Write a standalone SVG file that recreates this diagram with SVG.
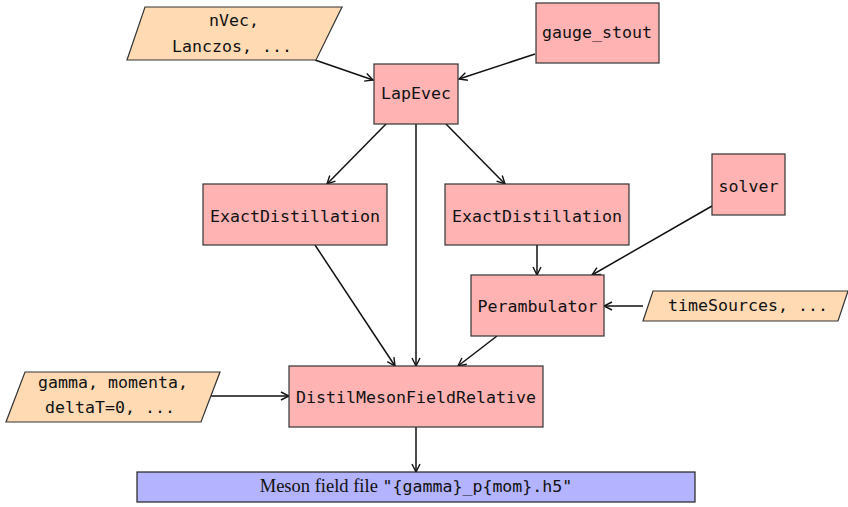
<svg xmlns="http://www.w3.org/2000/svg" width="848" height="507" viewBox="0 0 848 507">
  <style>
    .task { fill: #ffb3b3; stroke: #333; stroke-width: 1.2; }
    .param { fill: #ffdab3; stroke: #333; stroke-width: 1.2; }
    .out { fill: #b3b3ff; stroke: #222; stroke-width: 1.2; }
    .lbl { font-family: "DejaVu Sans Mono", "Liberation Mono", monospace; font-size: 16.6px; fill: #111; text-anchor: middle; }
    .serif { font-family: "Liberation Serif", "Times New Roman", serif; font-size: 18.5px; fill: #111; }
    .mono { font-family: "DejaVu Sans Mono", "Liberation Mono", monospace; font-size: 16.6px; }
    .edge { fill: none; stroke: #111; stroke-width: 1.5; marker-end: url(#arr); }
  </style>
  <defs>
    <marker id="arr" viewBox="0 0 10 10" refX="9" refY="5" markerWidth="10" markerHeight="10" markerUnits="userSpaceOnUse" orient="auto">
      <path d="M1,1 L9,5 L1,9" fill="none" stroke="#111" stroke-width="1.4" stroke-linejoin="miter"/>
    </marker>
  </defs>

  <g id="connectors">
    <line class="edge" x1="315" y1="60" x2="373" y2="80"/>
    <line class="edge" x1="535" y1="54" x2="459" y2="79"/>
    <line class="edge" x1="386" y1="124" x2="327" y2="184"/>
    <line class="edge" x1="446" y1="124" x2="505" y2="184"/>
    <line class="edge" x1="416" y1="124" x2="416" y2="366"/>
    <line class="edge" x1="537" y1="245" x2="537" y2="275"/>
    <line class="edge" x1="712" y1="206" x2="592" y2="275"/>
    <line class="edge" x1="643" y1="306" x2="604" y2="306"/>
    <line class="edge" x1="315" y1="245" x2="395" y2="366"/>
    <line class="edge" x1="497" y1="336" x2="458" y2="366"/>
    <line class="edge" x1="211" y1="396" x2="289" y2="396"/>
    <line class="edge" x1="416" y1="427" x2="416" y2="472"/>
  </g>

  <g id="params-lapevec">
    <polygon class="param" points="145,7 342,7 316,60 127,60"/>
    <text class="lbl" x="234" y="26">nVec,</text>
    <text class="lbl" x="232" y="52">Lanczos, ...</text>
  </g>

  <g id="lapevec">
    <rect class="task" x="374" y="64" width="84" height="60"/>
    <text class="lbl" x="416" y="99">LapEvec</text>
  </g>

  <g id="gauge-stout">
    <rect class="task" x="536" y="3" width="123" height="60"/>
    <text class="lbl" x="597" y="38">gauge_stout</text>
  </g>

  <g id="exact-distillation-1">
    <rect class="task" x="203" y="184" width="184" height="61"/>
    <text class="lbl" x="295" y="222">ExactDistillation</text>
  </g>

  <g id="exact-distillation-2">
    <rect class="task" x="445" y="184" width="184" height="61"/>
    <text class="lbl" x="537" y="222">ExactDistillation</text>
  </g>

  <g id="solver">
    <rect class="task" x="712" y="154" width="73" height="61"/>
    <text class="lbl" x="748.5" y="192">solver</text>
  </g>

  <g id="perambulator">
    <rect class="task" x="471" y="275" width="133" height="61"/>
    <text class="lbl" x="537.5" y="312">Perambulator</text>
  </g>

  <g id="params-perambulator">
    <polygon class="param" points="653,291 848,291 838,321 643,321"/>
    <text class="lbl" x="748" y="311">timeSources, ...</text>
  </g>

  <g id="params-mesonfield">
    <polygon class="param" points="25,372 220,372 201,422 6,422"/>
    <text class="lbl" x="113" y="388">gamma, momenta,</text>
    <text class="lbl" x="110" y="413">deltaT=0, ...</text>
  </g>

  <g id="distil-meson-field-relative">
    <rect class="task" x="289" y="366" width="254" height="61"/>
    <text class="lbl" x="416" y="403">DistilMesonFieldRelative</text>
  </g>

  <g id="meson-field-file">
    <rect class="out" x="137" y="472" width="558" height="30"/>
    <text class="serif" x="416" y="492" text-anchor="middle">Meson field file <tspan class="mono">"{gamma}_p{mom}.h5"</tspan></text>
  </g>
</svg>
